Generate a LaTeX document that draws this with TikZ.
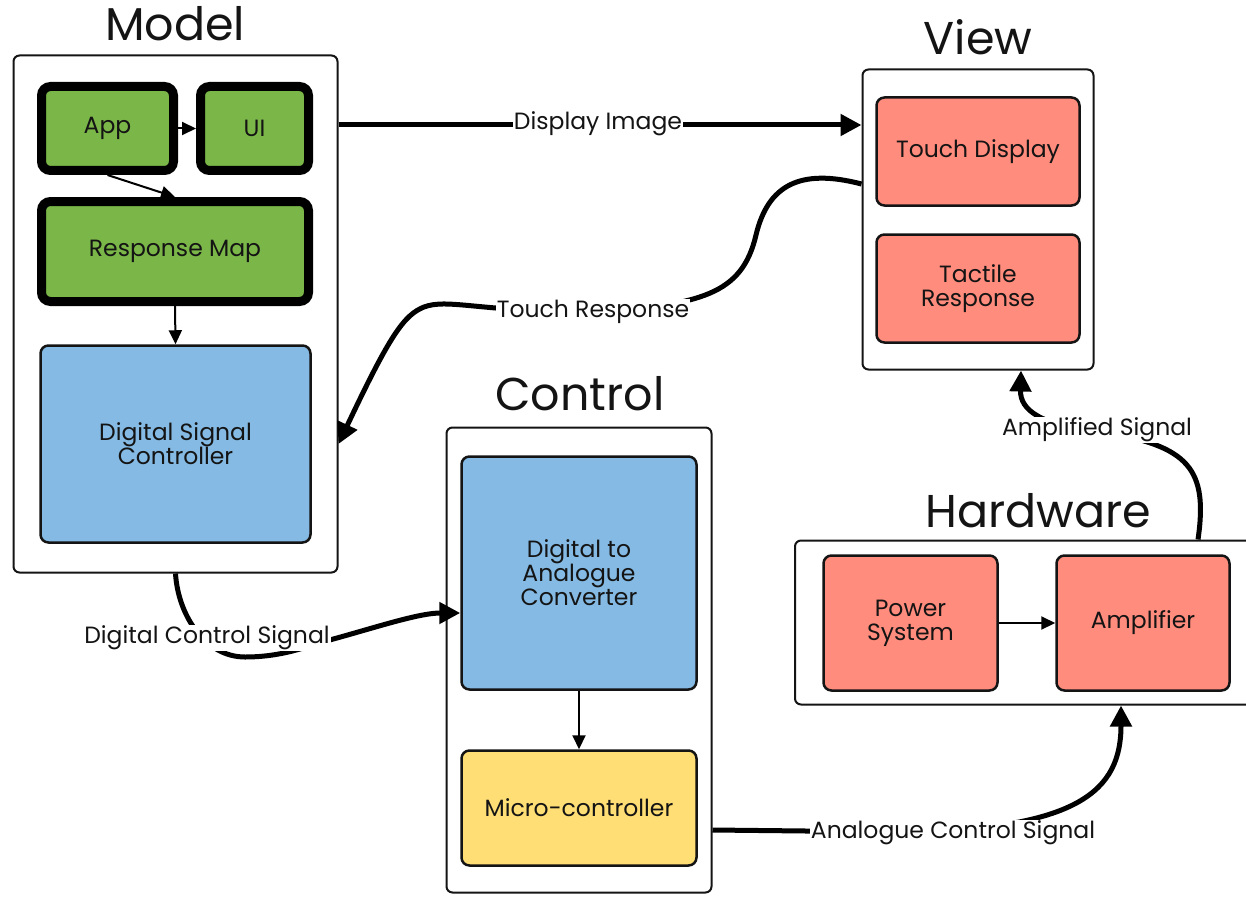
\documentclass[tikz,border=0pt]{standalone}
\usepackage{fontspec}
\setmainfont{Poppins}
\usetikzlibrary{arrows.meta,calc}

\definecolor{leafgreen}{RGB}{122,182,72}
\definecolor{skyblue}{RGB}{132,186,227}
\definecolor{salmon}{RGB}{255,140,125}
\definecolor{butter}{RGB}{255,222,117}
\definecolor{ink}{RGB}{20,20,20}

\begin{document}
\begin{tikzpicture}[x=1pt,y=-1pt,
  group/.style={draw=ink, line width=2pt, rounded corners=6pt, fill=white, inner sep=0pt},
  block/.style={draw=ink, line width=2.5pt, rounded corners=8pt, inner sep=0pt,
    align=center, text=ink, font=\fontsize{23.5}{24}\selectfont},
  heavyblock/.style={block, draw=black, line width=9pt, rounded corners=9pt, fill=leafgreen},
  blueblock/.style={block, fill=skyblue},
  redblock/.style={block, fill=salmon},
  yellowblock/.style={block, fill=butter},
  title/.style={text=ink, font=\fontsize{46}{50}\selectfont},
  signal/.style={draw=black, line width=5pt, -{Triangle[length=21pt,width=21pt]}},
  link/.style={draw=black, line width=2pt, -{Triangle[length=14pt,width=13pt]}},
  siglabel/.style={fill=white, inner sep=1pt, text=ink, font=\fontsize{23.5}{24}\selectfont}
]
\useasboundingbox (0,0) rectangle (1246,896);

% group frames
\node[group, minimum width=324pt, minimum height=517pt] (Model) at (175.5,314) {};
\node[group, minimum width=231pt, minimum height=300pt] (View) at (978,219.5) {};
\node[group, minimum width=265pt, minimum height=465pt] (Control) at (579,660) {};
\node[group, minimum width=465pt, minimum height=164pt] (Hardware) at (1027.5,622.5) {};

% group titles
\node[title] (ModelTitle) at (175,24) {Model};
\node[title] (ViewTitle) at (978,37) {View};
\node[title] (ControlTitle) at (580,394) {Control};
\node[title] (HardwareTitle) at (1038,511) {Hardware};

% Model
\node[heavyblock, minimum width=132pt, minimum height=84pt] (App) at (107.5,128.5) {App};
\node[heavyblock, minimum width=108pt, minimum height=84pt] (UI) at (254.5,128.5) {UI};
\node[heavyblock, minimum width=267pt, minimum height=100pt] (RespMap) at (175,251.5) {Response Map};
\node[blueblock, minimum width=270pt, minimum height=197pt] (DSC) at (175.5,444) {Digital Signal\\Controller};

% View
\node[redblock, minimum width=203pt, minimum height=108pt] (TouchDisp) at (978,151.5) {Touch Display};
\node[redblock, minimum width=203pt, minimum height=108pt] (Tactile) at (978,288.5) {Tactile\\Response};

% Control
\node[blueblock, minimum width=235pt, minimum height=233pt] (DAC) at (579,573) {Digital to\\Analogue\\Converter};
\node[yellowblock, minimum width=235pt, minimum height=115pt] (MCU) at (579,808) {Micro-controller};

% Hardware
\node[redblock, minimum width=174pt, minimum height=135pt] (Power) at (910.5,623) {Power\\System};
\node[redblock, minimum width=173pt, minimum height=135pt] (Amp) at (1143,623) {Amplifier};

% links inside groups
\draw[link] (App.east) -- (UI.west);
\draw[link] (App.south) -- (RespMap.north);
\draw[link] (RespMap.south) -- (DSC.north);
\draw[link] (DAC.south) -- (MCU.north);
\draw[link] (Power.east) -- (Amp.west);

% connector end points on the group frames
\coordinate (diStart) at (Model.east |- 0,125);
\coordinate (diEnd) at (View.west |- 0,125);
\coordinate (trStart) at (View.west |- 0,184);
\coordinate (trEnd) at (Model.east |- DSC.center);
\coordinate (dcStart) at (Model.south);
\coordinate (dcEnd) at (DAC.west |- 0,613);
\coordinate (acStart) at (Control.east |- 0,830);
\coordinate (acEnd) at (Hardware.south -| 1121,0);
\coordinate (amStart) at (Hardware.north -| 1198,0);
\coordinate (amEnd) at (View.south -| 1021,0);

% label positions
\coordinate (diPos) at (598,124);
\coordinate (trPos) at (593,312);
\coordinate (dcPos) at (207,638);
\coordinate (acPos) at (953,833);
\coordinate (amPos) at (1097,430);

% signals between groups
\draw[signal] (diStart) -- (diEnd);
\draw[signal] (trStart) .. controls (800,168) and (768,185) .. (756,235)
  .. controls (742,295) and (700,305) .. (trPos)
  .. controls (480,312) and (448,298) .. (424,307)
  .. controls (404,315) and (390,335) .. (trEnd);
\draw[signal] (dcStart) .. controls (178,615) and (205,657) .. (245,657)
  .. controls (285,657) and (310,645) .. (337,638)
  .. controls (380,626) and (420,613) .. (dcEnd);
\draw[signal] (acStart) -- (900,832) .. controls (1080,830) and (1121,790) .. (acEnd);
\draw[signal] (amStart) .. controls (1208,470) and (1190,445) .. (1100,432)
  .. controls (1040,425) and (1020,410) .. (amEnd);

% signal labels
\node[siglabel] (diLabel) at (diPos) {Display Image};
\node[siglabel] (trLabel) at (trPos) {Touch Response};
\node[siglabel] (dcLabel) at (dcPos) {Digital Control Signal};
\node[siglabel] (acLabel) at (acPos) {Analogue Control Signal};
\node[siglabel] (amLabel) at (amPos) {Amplified Signal};
\end{tikzpicture}
\end{document}
